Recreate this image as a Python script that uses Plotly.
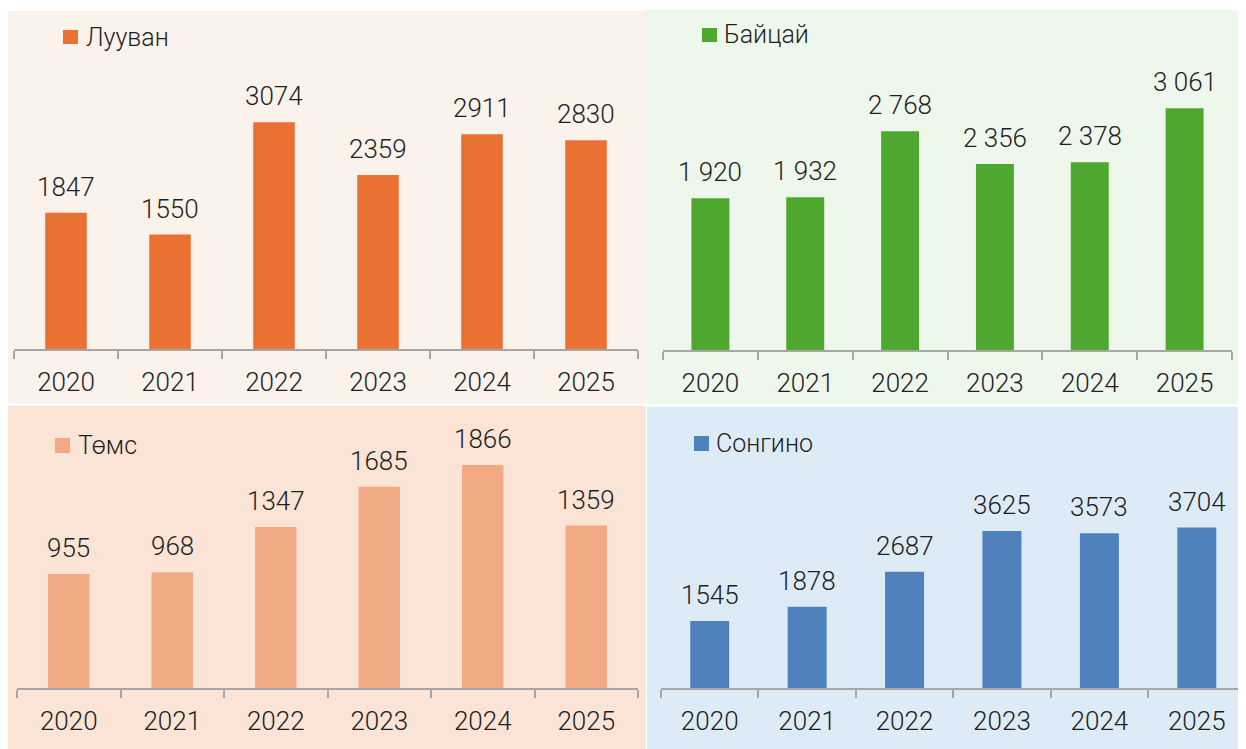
import plotly.graph_objects as go

# ---- data ----
years = ["2020", "2021", "2022", "2023", "2024", "2025"]
luuvan = [1847, 1550, 3074, 2359, 2911, 2830]
baitsai = [1920, 1932, 2768, 2356, 2378, 3061]
tums = [955, 968, 1347, 1685, 1866, 1359]
songino = [1545, 1878, 2687, 3625, 3573, 3704]
names = ["Лууван", "Байцай", "Төмс", "Сонгино"]

W, H = 1246, 749
OFF = 8  # page body margin offset
FONT = "Roboto"
TXT = "#1f1f1f"


def fx(px):
    return (px - OFF) / W


def fy(py):
    return 1 - (py - OFF) / H


def plain(v):
    return str(v)


def spaced(v):
    return f"{v:,}".replace(",", " ")


panels = [
    dict(vals=luuvan, name=names[0], fmt=plain, color="#E97132", bg="#FCF2EC",
         box=(7, 11, 645, 403), xd=(14, 638), yd=(60, 349), scale=0.0738,
         leg=(63, 30, 78, 44, 84, 37)),
    dict(vals=baitsai, name=names[1], fmt=spaced, color="#4EA72E", bg="#EEF7EB",
         box=(645, 10, 1254, 404), xd=(663, 1232), yd=(60, 350), scale=0.0790,
         leg=(702, 28, 717, 42, 722, 35)),
    dict(vals=tums, name=names[2], fmt=plain, color="#F2AA84", bg="#FBE3D6",
         box=(7, 406, 645.7, 757), xd=(17, 638), yd=(440, 688), scale=0.1195,
         leg=(55, 438, 70, 453, 76, 445)),
    dict(vals=songino, name=names[3], fmt=plain, color="#4F81BD", bg="#DDEBF7",
         box=(647, 406.7, 1254, 757), xd=(661, 1245.5), yd=(440, 688), scale=0.0433,
         leg=(694, 436, 709, 451, 714, 443)),
]

fig = go.Figure()
shapes = []
annotations = []
layout = {}

for i, p in enumerate(panels, start=1):
    sfx = "" if i == 1 else str(i)
    xa, ya = "x" + sfx, "y" + sfx
    fig.add_trace(go.Bar(
        x=years, y=p["vals"], xaxis=xa, yaxis=ya,
        marker=dict(color=p["color"], line=dict(width=0)),
        width=0.40, showlegend=False, hoverinfo="x+y",
    ))
    x0, y0, x1, y1 = p["box"]
    shapes.append(dict(type="rect", xref="paper", yref="paper",
                       x0=fx(x0), x1=fx(x1), y0=fy(y1), y1=fy(y0),
                       fillcolor=p["bg"], line=dict(width=0), layer="below"))
    rng = (p["yd"][1] - p["yd"][0]) / p["scale"]
    layout["xaxis" + sfx] = dict(
        domain=[fx(p["xd"][0]), fx(p["xd"][1])], anchor=ya,
        type="category", categoryorder="array", categoryarray=years,
        range=[-0.5, len(years) - 0.5], autorange=False,
        showline=True, linecolor="#A6A6A6", linewidth=2,
        ticks="outside", tickson="boundaries", ticklen=8, tickwidth=2,
        tickcolor="#A6A6A6", showgrid=False, zeroline=False,
        ticklabelstandoff=9, tickangle=0,
        tickfont=dict(family=FONT, size=26, color=TXT, weight=300),
    )
    layout["yaxis" + sfx] = dict(
        domain=[fy(p["yd"][1]), fy(p["yd"][0])], anchor=xa,
        range=[0, rng], autorange=False, visible=False,
        showgrid=False, zeroline=False,
    )
    for j, v in enumerate(p["vals"]):
        annotations.append(dict(
            x=j, y=v, xref=xa, yref=ya, text=p["fmt"](v), showarrow=False,
            yanchor="middle", yshift=26,
            font=dict(family=FONT, size=26, color=TXT, weight=300),
        ))
    lx0, ly0, lx1, ly1, tx, ty = p["leg"]
    shapes.append(dict(type="rect", xref="paper", yref="paper",
                       x0=fx(lx0), x1=fx(lx1), y0=fy(ly1), y1=fy(ly0),
                       fillcolor=p["color"], line=dict(width=0)))
    annotations.append(dict(
        x=fx(tx), y=fy(ty), xref="paper", yref="paper", text=p["name"],
        showarrow=False, xanchor="left", yanchor="middle",
        font=dict(family=FONT, size=25, color=TXT, weight=300),
    ))

fig.update_layout(
    width=W, height=H, margin=dict(l=0, r=0, t=0, b=0),
    paper_bgcolor="white", plot_bgcolor="rgba(0,0,0,0)",
    shapes=shapes, annotations=annotations, bargap=0.6,
    **layout,
)

fig.write_html("out.html")
